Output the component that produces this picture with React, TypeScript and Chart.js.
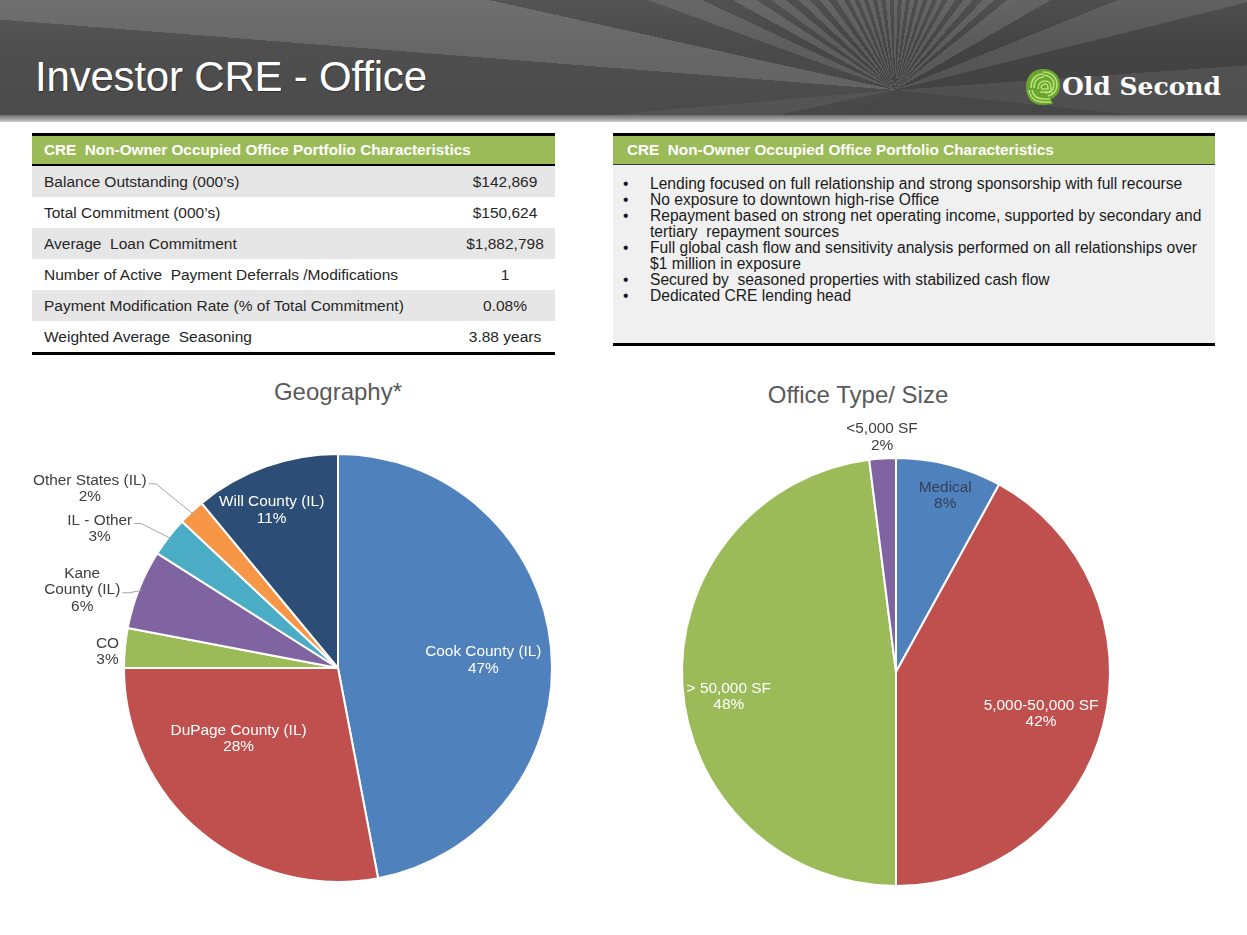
import React, { useEffect, useRef } from "react";
import { Chart, registerables } from "chart.js";

Chart.register(...registerables);

// ---------- data ----------
const slideTitle = "Investor CRE - Office";
const tableTitle = "CRE  Non-Owner Occupied Office Portfolio Characteristics";
const metricNames = [
  "Balance Outstanding (000\u2019s)",
  "Total Commitment (000\u2019s)",
  "Average  Loan Commitment",
  "Number of Active  Payment Deferrals /Modifications",
  "Payment Modification Rate (% of Total Commitment)",
  "Weighted Average  Seasoning",
];
const metricValues = ["$142,869", "$150,624", "$1,882,798", "1", "0.08%", "3.88 years"];
const bullets = [
  ["Lending focused on full relationship and strong sponsorship with full recourse"],
  ["No exposure to downtown high-rise Office"],
  ["Repayment based on strong net operating income, supported by secondary and", "tertiary  repayment sources"],
  ["Full global cash flow and sensitivity analysis performed on all relationships over", "$1 million in exposure"],
  ["Secured by  seasoned properties with stabilized cash flow"],
  ["Dedicated CRE lending head"],
];

const geoTitle = "Geography*";
const geoCategories = [
  ["Cook County (IL)"],
  ["DuPage County (IL)"],
  ["CO"],
  ["Kane", "County (IL)"],
  ["IL - Other"],
  ["Other States (IL)"],
  ["Will County (IL)"],
];
const geoValues = [47, 28, 3, 6, 3, 2, 11];

const typeTitle = "Office Type/ Size";
const typeCategories = [["Medical"], ["5,000-50,000 SF"], ["> 50,000 SF"], ["<5,000 SF"]];
const typeValues = [8, 42, 48, 2];

// ---------- styles ----------
const geoColors = ["#4F81BD", "#C0504D", "#9BBB59", "#8064A2", "#4BACC6", "#F79646", "#2C4D75"];
const typeColors = ["#4F81BD", "#C0504D", "#9BBB59", "#8064A2"];

type LabelSpec = { dAngle: number; frac: number; color: string; leader?: boolean };
const geoLabelSpecs: LabelSpec[] = [
  { dAngle: 2.4, frac: 0.68, color: "#ffffff" },
  { dAngle: 15, frac: 0.57, color: "#ffffff" },
  { dAngle: -1.4, frac: 1.08, color: "#404040" },
  { dAngle: -4.6, frac: 1.25, color: "#404040", leader: true },
  { dAngle: -7.5, frac: 1.29, color: "#404040", leader: true },
  { dAngle: -11, frac: 1.43, color: "#404040", leader: true },
  { dAngle: -3, frac: 0.8, color: "#ffffff" },
];
const typeLabelSpecs: LabelSpec[] = [
  { dAngle: 1.2, frac: 0.855, color: "#33415a" },
  { dAngle: 1.6, frac: 0.705, color: "#ffffff" },
  { dAngle: -4.8, frac: 0.79, color: "#ffffff" },
  { dAngle: 0.2, frac: 1.1, color: "#404040" },
];

const FONT = "'Liberation Sans', Arial, sans-serif";
const LABEL_FONT_PX = 15.4;

function makeLabelPlugin(lines: string[][], specs: LabelSpec[]) {
  return {
    id: "sliceLabels",
    afterDatasetsDraw(chart: any) {
      const meta = chart.getDatasetMeta(0);
      const values = chart.data.datasets[0].data as number[];
      const ctx: CanvasRenderingContext2D = chart.ctx;
      ctx.save();
      ctx.font = `${LABEL_FONT_PX}px ${FONT}`;
      ctx.textAlign = "center";
      ctx.textBaseline = "middle";
      const lh = 16.5;
      meta.data.forEach((arc: any, i: number) => {
        const { x, y, startAngle, endAngle, outerRadius } = arc.getProps(
          ["x", "y", "startAngle", "endAngle", "outerRadius"],
          true
        );
        const mid = (startAngle + endAngle) / 2;
        const s = specs[i];
        const a = mid + (s.dAngle * Math.PI) / 180;
        const cx = x + Math.cos(a) * outerRadius * s.frac;
        const cy = y + Math.sin(a) * outerRadius * s.frac;
        const textLines = [...lines[i], `${values[i]}%`];
        const top = cy - ((textLines.length - 1) * lh) / 2;
        ctx.fillStyle = s.color;
        textLines.forEach((t, k) => ctx.fillText(t, cx, top + k * lh));
        if (s.leader) {
          const k = lines[i].length - 1;
          const w = ctx.measureText(lines[i][k]).width;
          const ly = top + k * lh + 3;
          const lx = cx + w / 2 + 2;
          ctx.strokeStyle = "#a6a6a6";
          ctx.lineWidth = 1;
          ctx.beginPath();
          ctx.moveTo(lx, ly);
          ctx.lineTo(lx + 7, ly);
          ctx.lineTo(x + Math.cos(mid) * (outerRadius - 3), y + Math.sin(mid) * (outerRadius - 3));
          ctx.stroke();
        }
      });
      ctx.restore();
    },
  };
}

function pieConfig(
  lines: string[][],
  values: number[],
  colors: string[],
  specs: LabelSpec[],
  padding: { left: number; right: number; top: number; bottom: number }
): any {
  return {
    type: "pie",
    data: {
      labels: lines.map((l) => l.join(" ")),
      datasets: [
        {
          data: values,
          backgroundColor: colors,
          borderColor: "#ffffff",
          borderWidth: 2,
        },
      ],
    },
    options: {
      responsive: false,
      animation: false,
      layout: { padding },
      plugins: {
        legend: { display: false },
        tooltip: { enabled: false },
      },
    },
    plugins: [makeLabelPlugin(lines, specs)],
  };
}

// sunburst header background (decoration)
const rayWedges: [number, number, string][] = [
  [96, 240, "#4a4a4a"],
  [240, 258, "#4c4c4c"],
  [258, 265, "#585858"],
  [265, 274.5, "#4f4f4f"],
  [274.5, 282.5, "#676767"],
  [282.5, 290, "#4a4a4a"],
  [290, 295, "#5e5e5e"],
  [295, 299, "#474747"],
  [299, 303, "#5f5f5f"],
  [303, 306, "#474747"],
];
function buildRays(): string {
  const segs: [number, number, string][] = [...rayWedges];
  let a = 306;
  let light = true;
  while (a < 414) {
    const step = a < 330 || a > 390 ? 3.5 : 2.6;
    const b = Math.min(a + step, 414);
    segs.push([a, b, light ? "#5c5c5c" : "#454545"]);
    light = !light;
    a = b;
  }
  segs.push([414, 420, "#5a5a5a"], [420, 428, "#434343"], [428, 436, "#575757"], [436, 446, "#444444"], [446, 456, "#535353"]);
  const norm = segs
    .map(([s, e, c]) => [s % 360, e > 360 && s >= 360 ? e - 360 : e, c] as [number, number, string])
    .map(([s, e, c]) => (e > 360 ? [[s, 360, c], [0, e - 360, c]] : [[s, e, c]]))
    .flat() as [number, number, string][];
  norm.sort((p, q) => p[0] - q[0]);
  const parts = norm.map(([s, e, c]) => `${c} ${s}deg ${e}deg`);
  return `conic-gradient(from 0deg at 895px 90px, ${parts.join(", ")})`;
}

function Logo() {
  return (
    <svg width="40" height="42" viewBox="0 0 40 42" style={{ position: "absolute", left: 1023, top: 66 }}>
      <path
        d="M20 3 C30 3 37 9 37 19 C37 27 33 31 28 33 L30 38 L20 39 C9 39 3 32 3 21 C3 10 10 3 20 3 Z"
        fill="#6aa42e"
      />
      <g fill="none" stroke="#b7e27a" strokeWidth="1.6">
        <path d="M20 6 C28 6 34 11 34 19 C34 25 30 29 25 30" />
        <path d="M20 9 C26 9 31 13 31 19 C31 24 27 27 22 27" />
        <path d="M8 22 C8 13 13 8 20 8" />
        <path d="M11 22 C11 15 15 11 21 11" />
        <path d="M6 24 C7 32 13 36 21 36 L28 36" />
        <path d="M9 24 C10 30 14 33 21 33 L27 33" />
        <path d="M15 23 C15 18 18 15 22 15 C26 15 28 18 28 21 L28 26 L17 26" />
        <path d="M18 22 C18 20 20 18 22 18 C24 18 25 20 25 22 L25 23 L18 23" />
      </g>
    </svg>
  );
}

export default function App() {
  const geoRef = useRef<HTMLCanvasElement>(null);
  const typeRef = useRef<HTMLCanvasElement>(null);

  useEffect(() => {
    document.body.style.margin = "0";
    const c1 = new Chart(
      geoRef.current!,
      pieConfig(geoCategories, geoValues, geoColors, geoLabelSpecs, { left: 123, right: 57, top: 13, bottom: 27 })
    );
    const c2 = new Chart(
      typeRef.current!,
      pieConfig(typeCategories, typeValues, typeColors, typeLabelSpecs, { left: 61, right: 136, top: 57, bottom: 23 })
    );
    return () => {
      c1.destroy();
      c2.destroy();
    };
  }, []);

  const headerBg =
    "linear-gradient(180deg, rgba(255,255,255,0.06) 0%, rgba(255,255,255,0) 40%, rgba(0,0,0,0.06) 100%)," +
    buildRays();

  const cell: React.CSSProperties = {
    height: 31,
    display: "flex",
    alignItems: "center",
    fontSize: 15.5,
    color: "#262626",
  };

  const greenHead: React.CSSProperties = {
    height: 28,
    background: "#9BBB59",
    color: "#fff",
    fontWeight: "bold",
    fontSize: 15.3,
    display: "flex",
    alignItems: "center",
    whiteSpace: "pre",
  };

  return (
    <div
      style={{
        position: "absolute",
        left: 0,
        top: 0,
        width: 1247,
        height: 935,
        overflow: "hidden",
        background: "#ffffff",
        fontFamily: FONT,
      }}
    >
      {/* header */}
      <div style={{ position: "absolute", left: 0, top: 0, width: 1247, height: 118, background: headerBg }} />
      <div
        style={{
          position: "absolute",
          left: 0,
          top: 115,
          width: 1247,
          height: 7,
          background: "linear-gradient(180deg, #6e6e6e 0%, #9c9c9c 55%, #cfcfcf 100%)",
        }}
      />
      <div
        style={{
          position: "absolute",
          left: 35,
          top: 56,
          fontSize: 42,
          lineHeight: "42px",
          letterSpacing: -0.2,
          color: "#ffffff",
          whiteSpace: "nowrap",
          textShadow: "1px 1px 1px rgba(0,0,0,0.35)",
        }}
      >
        {slideTitle}
      </div>
      <Logo />
      <div
        style={{
          position: "absolute",
          left: 1062,
          top: 72,
          fontFamily: "'DejaVu Serif', 'Liberation Serif', serif",
          fontWeight: "bold",
          fontSize: 25,
          lineHeight: "30px",
          color: "#ffffff",
          whiteSpace: "nowrap",
        }}
      >
        Old Second
      </div>

      {/* left table */}
      <div style={{ position: "absolute", left: 32, top: 133, width: 523 }}>
        <div style={{ height: 3, background: "#000" }} />
        <div style={{ ...greenHead, paddingLeft: 12 }}>{tableTitle}</div>
        <div style={{ height: 2, background: "#000" }} />
        {metricNames.map((name, i) => (
          <div key={i} style={{ ...cell, background: i % 2 === 0 ? "#e6e6e6" : "#ffffff" }}>
            <div style={{ flex: 1, paddingLeft: 12, whiteSpace: "pre" }}>{name}</div>
            <div style={{ width: 100, textAlign: "center", whiteSpace: "nowrap" }}>{metricValues[i]}</div>
          </div>
        ))}
        <div style={{ height: 3, background: "#000" }} />
      </div>

      {/* right box */}
      <div style={{ position: "absolute", left: 613, top: 133, width: 602 }}>
        <div style={{ height: 3, background: "#000" }} />
        <div style={{ ...greenHead, paddingLeft: 14 }}>{tableTitle}</div>
        <div style={{ height: 1, background: "#3a3a3a" }} />
        <div style={{ height: 178, background: "#f0f0f0", paddingTop: 11, boxSizing: "border-box" }}>
          {bullets.map((b, i) => (
            <div key={i} style={{ display: "flex", fontSize: 15.6, lineHeight: "16px", color: "#1a1a1a" }}>
              <div style={{ width: 37, paddingLeft: 10, boxSizing: "border-box" }}>{"\u2022"}</div>
              <div style={{ flex: 1 }}>
                {b.map((line, k) => (
                  <div key={k} style={{ whiteSpace: "pre" }}>
                    {line}
                  </div>
                ))}
              </div>
            </div>
          ))}
        </div>
        <div style={{ height: 3, background: "#000" }} />
      </div>

      {/* chart titles */}
      <div
        style={{
          position: "absolute",
          left: 218,
          width: 240,
          top: 378,
          textAlign: "center",
          fontSize: 24,
          lineHeight: "28px",
          color: "#595959",
        }}
      >
        {geoTitle}
      </div>
      <div
        style={{
          position: "absolute",
          left: 738,
          width: 240,
          top: 381,
          textAlign: "center",
          fontSize: 24,
          lineHeight: "28px",
          color: "#595959",
        }}
      >
        {typeTitle}
      </div>

      {/* charts */}
      <canvas ref={geoRef} width={610} height={470} style={{ position: "absolute", left: 0, top: 440 }} />
      <canvas ref={typeRef} width={627} height={510} style={{ position: "absolute", left: 620, top: 400 }} />
    </div>
  );
}
